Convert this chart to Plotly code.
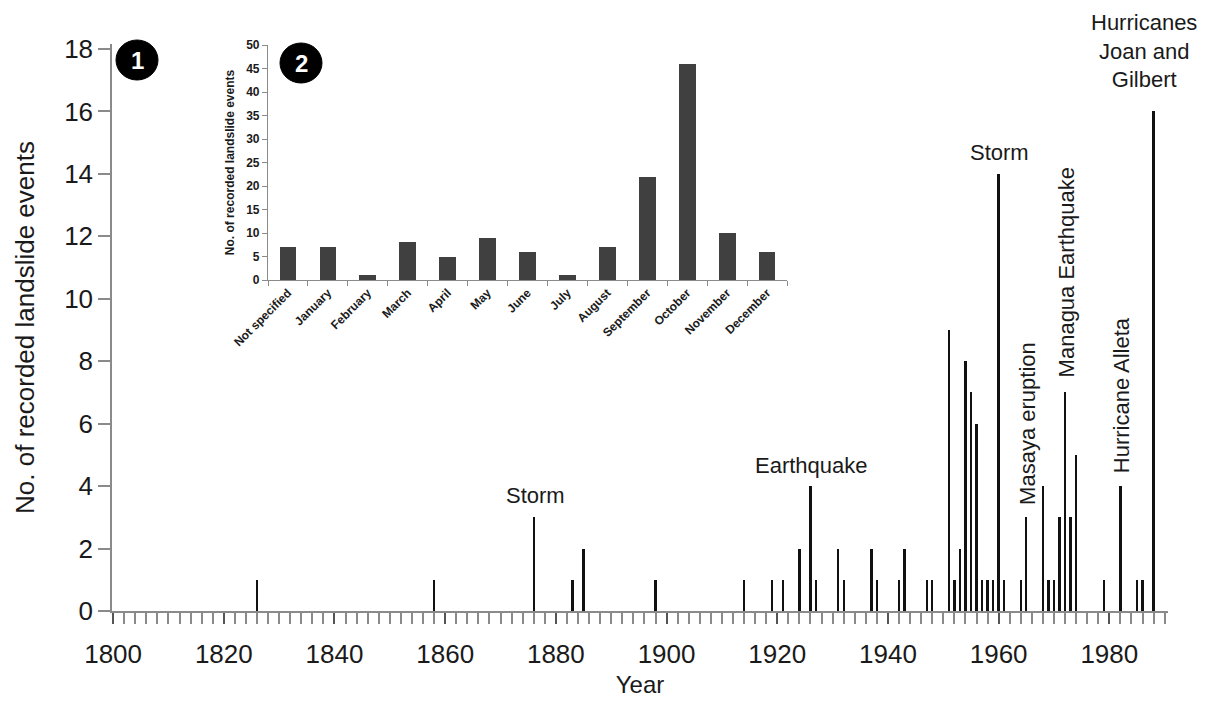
import plotly.graph_objects as go

# ---- Main chart data: landslide events per year ----
years = [1826, 1858, 1876, 1883, 1885, 1898, 1914, 1919, 1921, 1924, 1926, 1927,
         1931, 1932, 1937, 1938, 1942, 1943, 1947, 1948, 1951, 1952, 1953, 1954,
         1955, 1956, 1957, 1958, 1959, 1960, 1961, 1964, 1965, 1968, 1969, 1970,
         1971, 1972, 1973, 1974, 1979, 1982, 1985, 1986, 1988]
events = [1, 1, 3, 1, 2, 1, 1, 1, 1, 2, 4, 1,
          2, 1, 2, 1, 1, 2, 1, 1, 9, 1, 2, 8,
          7, 6, 1, 1, 1, 14, 1, 1, 3, 4, 1, 1,
          3, 7, 3, 5, 1, 4, 1, 1, 16]

# ---- Inset data: events per month ----
months = ["Not specified", "January", "February", "March", "April", "May", "June",
          "July", "August", "September", "October", "November", "December"]
month_events = [7, 7, 1, 8, 5, 9, 6, 1, 7, 22, 46, 10, 6]

# ---- Event labels (text, year, y position in data units, angle) ----
label_text = ["Storm", "Earthquake", "Storm", "Masaya eruption", "Managua Earthquake",
              "Hurricane Alleta", "Hurricanes<br>Joan and<br>Gilbert"]
label_year = [1876.3, 1926.1, 1960.2, 1965.1, 1972.2, 1982.1, 1986.3]
label_y = [3.71, 4.67, 14.69, 6.02, 10.85, 6.91, 17.95]
label_angle = [0, 0, 0, -90, -90, -90, 0]

FONT = "Liberation Sans, Arial, sans-serif"
TXT = "#1a1a1a"
AX = "#8a8a8a"

# page body adds an 8px offset; size the figure so it fills the 1205x720 window
OFF = 8
W, H = 1205 - OFF, 720 - OFF
PLOT_L, PLOT_R, PLOT_T, PLOT_B = 112, 1168, 44, 611   # screen pixel extents of main plot area
ML = PLOT_L - OFF
MT = PLOT_T - OFF
MR = W - (PLOT_R - OFF)
MB = H - (PLOT_B - OFF)
PW = PLOT_R - PLOT_L
PH = PLOT_B - PLOT_T


def px_x(px):
    return (px - PLOT_L) / PW


def px_y(py):
    return (PLOT_B - py) / PH


fig = go.Figure()

fig.add_trace(go.Bar(x=years, y=events, width=0.42, marker=dict(color="#111111", line=dict(width=0)),
                     xaxis="x", yaxis="y", showlegend=False))

fig.add_trace(go.Bar(x=months, y=month_events, width=0.42,
                     marker=dict(color="#404040", line=dict(width=0)),
                     xaxis="x2", yaxis="y2", showlegend=False))

ymax = 18 * (PLOT_B - PLOT_T) / (PLOT_B - 49)

fig.update_layout(
    width=W, height=H,
    margin=dict(l=ML, r=MR, t=MT, b=MB),
    plot_bgcolor="white", paper_bgcolor="white",
    font=dict(family=FONT, color=TXT),
    bargap=0,
    xaxis=dict(
        range=[1799.8, 1990.6], tick0=1800, dtick=20,
        showgrid=False, zeroline=False,
        showline=True, linecolor=AX, linewidth=1.5,
        ticks="outside", ticklen=11, tickcolor="#555", tickwidth=1.5,
        minor=dict(dtick=2, tick0=1800, ticks="outside", ticklen=11, tickcolor=AX, tickwidth=1.5, showgrid=False),
        tickfont=dict(size=26, color=TXT, family=FONT),
        ticklabelstandoff=8,
        title=dict(text="Year", font=dict(size=24, color=TXT, family=FONT), standoff=8),
        domain=[0, 1],
    ),
    yaxis=dict(
        range=[0, ymax], tick0=0, dtick=2,
        showgrid=False, zeroline=False,
        showline=True, linecolor=AX, linewidth=1.5,
        ticks="outside", ticklen=12, tickcolor=AX, tickwidth=1.5,
        tickfont=dict(size=26, color=TXT, family=FONT),
        title=dict(text="No. of recorded landslide events", font=dict(size=26, color=TXT, family=FONT), standoff=22),
        domain=[0, 1],
    ),
    xaxis2=dict(
        domain=[px_x(268), px_x(787)], anchor="y2", type="category",
        showgrid=False, zeroline=False,
        showline=True, linecolor=AX, linewidth=1.2,
        ticks="outside", ticklen=5, tickcolor=AX, tickson="boundaries",
        tickangle=-45,
        tickfont=dict(size=12, color=TXT, family=FONT, weight="bold"),
    ),
    yaxis2=dict(
        domain=[px_y(280), px_y(45)], anchor="x2",
        range=[0, 50], dtick=5,
        showgrid=False, zeroline=False,
        showline=True, linecolor=AX, linewidth=1.2,
        ticks="outside", ticklen=5, tickcolor=AX,
        tickfont=dict(size=12, color=TXT, family=FONT, weight="bold"),
        title=dict(text="No. of recorded landslide events",
                   font=dict(size=12, color=TXT, family=FONT, weight="bold"), standoff=8),
    ),
)

annotations = []
for t, xv, yv, ang in zip(label_text, label_year, label_y, label_angle):
    annotations.append(dict(x=xv, y=yv, xref="x", yref="y", text=t, showarrow=False,
                            textangle=ang, xanchor="center", yanchor="middle",
                            font=dict(size=22, color=TXT, family=FONT)))

# Panel number badges
badges = [("1", 137, 60), ("2", 301, 63)]
shapes = []
for num, cx, cy in badges:
    shapes.append(dict(type="circle", xref="paper", yref="paper",
                       x0=px_x(cx - 21), x1=px_x(cx + 21), y0=px_y(cy + 20), y1=px_y(cy - 20),
                       fillcolor="black", line=dict(color="black", width=1)))
    annotations.append(dict(x=px_x(cx), y=px_y(cy), xref="paper", yref="paper", text=num,
                            showarrow=False, xanchor="center", yanchor="middle",
                            font=dict(size=24, color="white", family=FONT, weight="bold")))

fig.update_layout(annotations=annotations, shapes=shapes)

fig.write_html("out.html")
